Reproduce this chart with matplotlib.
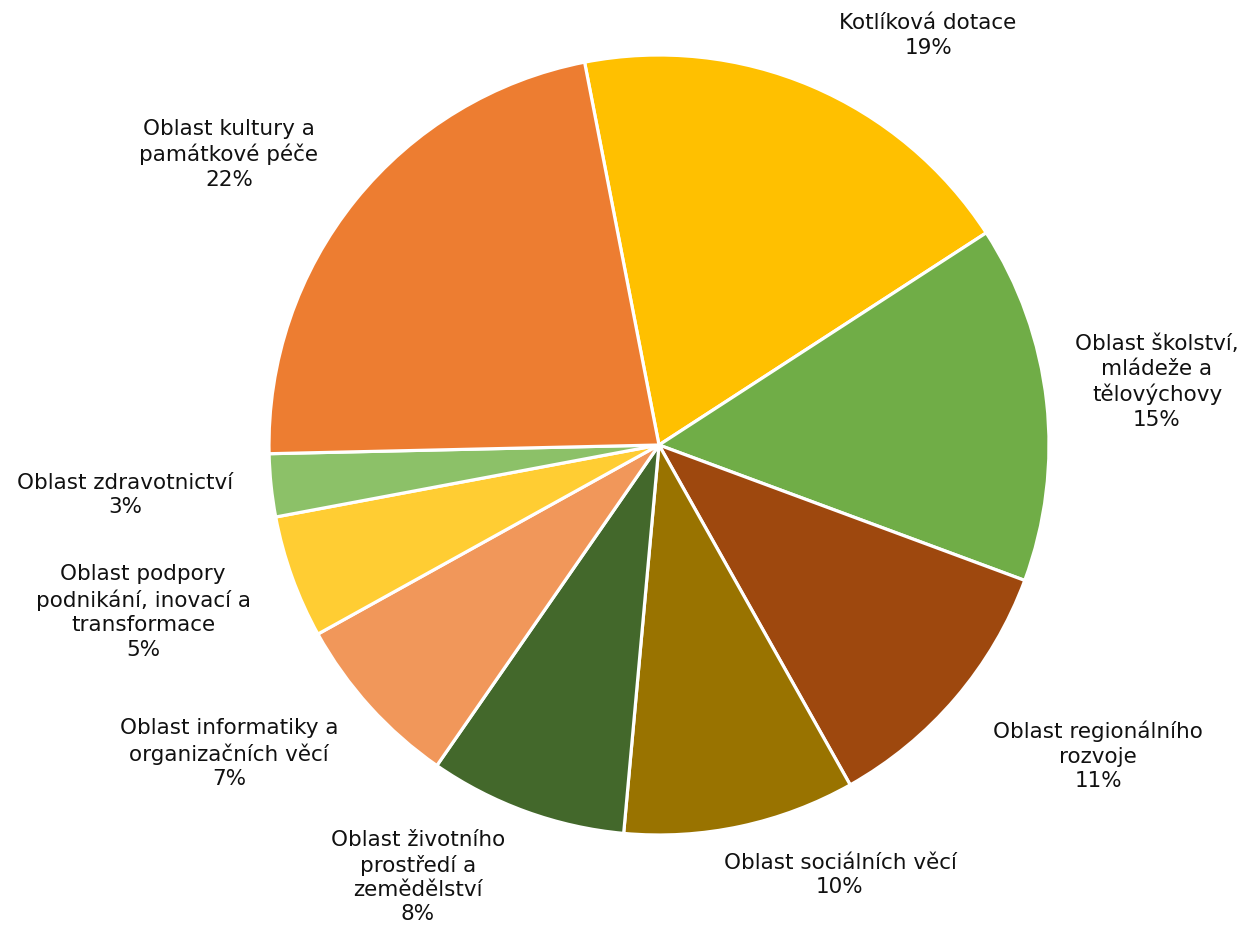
import numpy as np
import matplotlib
matplotlib.use('Agg')
import matplotlib.pyplot as plt

labels = ['Kotlíková dotace', 'Oblast školství,\nmládeže a\ntělovýchovy',
          'Oblast regionálního\nrozvoje', 'Oblast sociálních věcí',
          'Oblast životního\nprostředí a\nzemědělství',
          'Oblast informatiky a\norganizačních věcí',
          'Oblast podpory\npodnikání, inovací a\ntransformace',
          'Oblast zdravotnictví', 'Oblast kultury a\npamátkové péče']
values = [18.9, 14.8, 11.2, 9.6, 8.2, 7.3, 5.1, 2.6, 22.3]
colors = ['#FFC000', '#70AD47', '#9E480E', '#997300', '#43682B',
          '#F1975A', '#FFCD33', '#8CC168', '#ED7D31']
# label centres, in pie radius units
label_pos = [(0.69, 1.05), (1.277, 0.162), (1.126, -0.797), (0.464, -1.103),
             (-0.618, -1.108), (-1.103, -0.792), (-1.323, -0.428),
             (-1.369, -0.128), (-1.103, 0.746)]

plt.rcParams['font.family'] = ['DejaVu Sans']

fig = plt.figure(figsize=(12.54, 9.35), dpi=100)
cx, cy, half = 659, 935 - 445, 500
ax = fig.add_axes([(cx - half) / 1254, (cy - half) / 935, 2 * half / 1254, 2 * half / 935])
ax.pie(values, colors=colors, startangle=101, counterclock=False, radius=1,
       wedgeprops=dict(edgecolor='white', linewidth=2.3))
lim = half / 390
ax.set_xlim(-lim, lim)
ax.set_ylim(-lim, lim)
ax.axis('off')

for lab, v, (x, y) in zip(labels, values, label_pos):
    ax.text(x, y, f'{lab}\n{round(v):.0f}%', ha='center', va='center',
            fontsize=15.5, color='#111111', linespacing=1.28, clip_on=False)

fig.savefig('out.png', dpi=100)
